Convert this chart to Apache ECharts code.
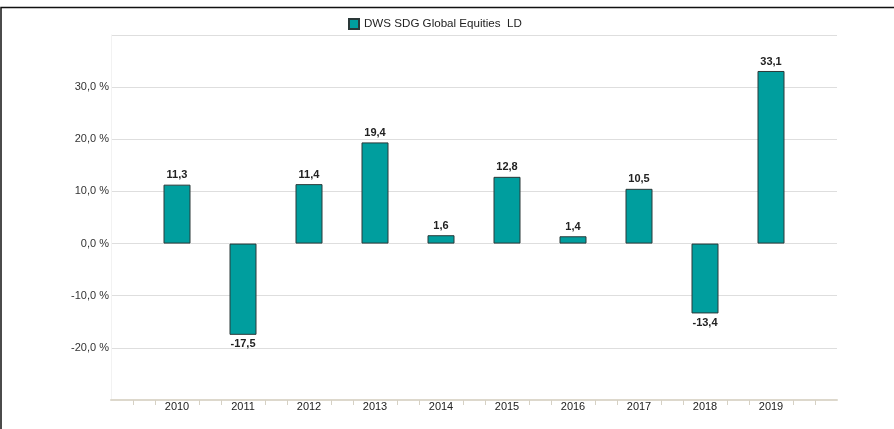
<!DOCTYPE html>
<html>
<head>
<meta charset="utf-8">
<script src="https://cdn.jsdelivr.net/npm/echarts@6/dist/echarts.min.js"></script>
<style>
  html, body { margin: 0; padding: 0; background: #fff; }
  #chart { width: 894px; height: 429px; }
</style>
</head>
<body>
<div id="chart"></div>
<script>
// data
const years = [2010, 2011, 2012, 2013, 2014, 2015, 2016, 2017, 2018, 2019];
const returns = [11.3, -17.5, 11.4, 19.4, 1.6, 12.8, 1.4, 10.5, -13.4, 33.1];
const seriesName = 'DWS SDG Global Equities  LD';

const fmt = v => v.toFixed(1).replace('.', ',');

let chart = echarts.init(document.getElementById('chart'));
let option;

option = {
  animation: false,
  textStyle: { fontFamily: 'Liberation Sans, Arial, sans-serif' },
  graphic: [
    {
      type: 'polyline',
      shape: { points: [[1, 429], [1, 7.5], [894, 7.5]] },
      style: { stroke: '#111', lineWidth: 1.5, fill: null }
    }
  ],
  legend: {
    left: 343,
    top: 13,
    icon: 'rect',
    itemWidth: 10,
    itemHeight: 10,
    itemGap: 4,
    textStyle: { fontSize: 11.6, color: '#222' },
    data: [seriesName]
  },
  grid: {
    left: 111,
    right: 57,
    top: 35,
    bottom: 29
  },
  xAxis: {
    type: 'value',
    min: 2009,
    max: 2020,
    interval: 1,
    axisLine: { show: true, onZero: false, lineStyle: { color: '#ddd8cc', width: 2 } },
    axisTick: { show: false },
    minorTick: { show: true, splitNumber: 3, length: 5, lineStyle: { color: '#d6d1c4', width: 1 } },
    splitLine: { show: false },
    axisLabel: {
      color: '#222',
      fontSize: 11,
      margin: 1,
      formatter: v => (v >= 2010 && v <= 2019) ? String(v) : ''
    }
  },
  yAxis: {
    type: 'value',
    min: -30,
    max: 40,
    interval: 10,
    axisLine: { show: true, lineStyle: { color: '#f2f2f2' } },
    axisTick: { show: false },
    splitLine: { lineStyle: { color: '#dedede' } },
    axisLabel: {
      color: '#333',
      fontSize: 11,
      margin: 2,
      formatter: v => (v >= -20 && v <= 30) ? fmt(v) + ' %' : ''
    }
  },
  series: [
    {
      name: seriesName,
      type: 'bar',
      barWidth: 27,
      data: years.map((y, i) => ({
        value: [y, returns[i]],
        // negative bars get their label below
        label: { position: returns[i] < 0 ? 'bottom' : 'top' }
      })),
      itemStyle: {
        color: '#009e9e',
        borderColor: '#2a3838',
        borderWidth: 1
      },
      label: {
        show: true,
        fontSize: 11,
        fontWeight: 'bold',
        color: '#222',
        distance: 4,
        formatter: p => fmt(p.value[1])
      }
    }
  ]
};

chart.setOption(option);
</script>
</body>
</html>
